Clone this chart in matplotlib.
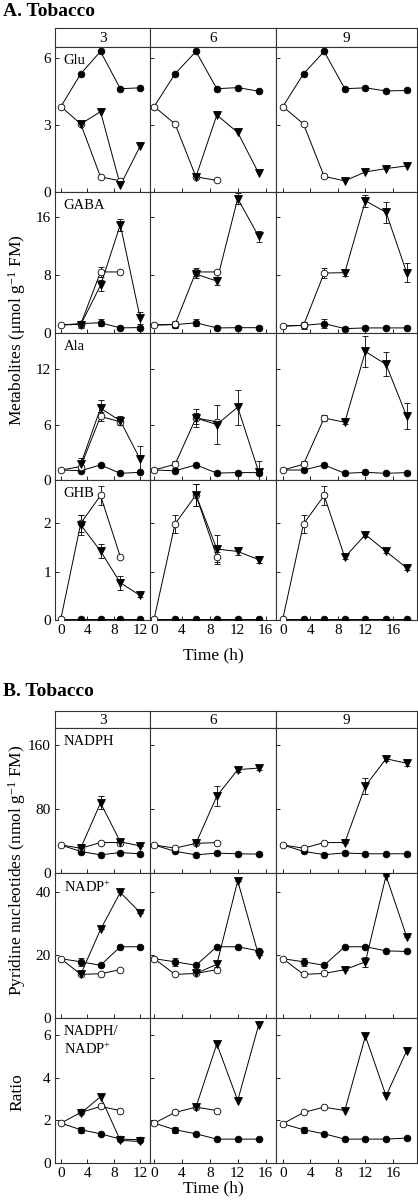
import matplotlib
matplotlib.use("Agg")
import matplotlib.pyplot as plt
import numpy as np

plt.rcParams['font.family'] = ['Liberation Serif', 'DejaVu Serif']
plt.rcParams['mathtext.fontset'] = 'custom'
plt.rcParams['mathtext.rm'] = 'Liberation Serif'
plt.rcParams['mathtext.it'] = 'Liberation Serif:italic'

# ---------------- data ----------------
columns = ["3", "6", "9"]
t_ctrl = [[3, 6, 9, 12], [3, 6, 9, 12, 15], [3, 6, 9, 12, 15, 18]]
t_open = [[0, 3, 6, 9], [0, 3, 6, 9], [0, 3, 6]]
t_tri = [[3, 6, 9, 12], [6, 9, 12, 15], [9, 12, 15, 18]]

# Panel A
glu_ctrl = [[5.3, 6.3, 4.63, 4.67], [5.3, 6.3, 4.63, 4.68, 4.52], [5.3, 6.3, 4.63, 4.67, 4.53, 4.55]]
glu_open = [[3.83, 3.05, 0.68, 0.5], [3.83, 3.05, 0.68, 0.52], [3.83, 3.05, 0.7]]
glu_tri = [[3.05, 3.6, 0.3, 2.05], [0.68, 3.45, 2.67, 0.85], [0.5, 0.9, 1.05, 1.17]]

gaba_ctrl = [[1.3, 1.4, 0.7, 0.75], [1.15, 1.4, 0.7, 0.73, 0.73], [1.05, 1.3, 0.6, 0.7, 0.7, 0.7]]
gaba_open = [[1.1, 1.2, 8.4, 8.4], [1.1, 1.2, 8.4, 8.4], [0.96, 1.05, 8.25]]
gaba_tri = [[1.15, 6.55, 14.9, 2.1], [8.1, 7.15, 18.5, 13.3], [8.3, 18.2, 16.6, 8.3]]
gaba_ctrl_err = [[0.4, 0.5, 0.2, 0.2], [0.3, 0.5, 0.2, 0.2, 0.2], [0.3, 0.6, 0.2, 0.2, 0.2, 0.2]]
gaba_open_err = [[0, 0.4, 0.7, 0], [0, 0.5, 0.6, 0], [0, 0.5, 0.7]]
gaba_tri_err = [[0.5, 0.8, 0.8, 0.8], [0.6, 0.6, 0.7, 0.8], [0.4, 0.8, 1.4, 1.3]]

ala_ctrl = [[1.0, 1.63, 0.72, 0.83], [1.0, 1.63, 0.75, 0.8, 0.8], [1.08, 1.63, 0.72, 0.83, 0.72, 0.8]]
ala_open = [[1.08, 1.45, 6.87, 6.3], [1.08, 1.7, 6.7, 6.3], [1.08, 1.7, 6.7]]
ala_tri = [[1.7, 7.77, 6.4, 2.24], [6.7, 6.0, 7.88, 0.9], [6.25, 13.9, 12.5, 6.9]]
ala_open_err = [[0, 0.5, 0.5, 0], [0, 0.4, 0.6, 0], [0, 0.4, 0.3]]
ala_tri_err = [[0.7, 0.9, 0.5, 1.4], [1.0, 2.1, 1.9, 1.2], [0.2, 1.7, 1.3, 1.4]]

ghb_ctrl = [[0.03, 0.03, 0.03, 0.03], [0.03, 0.03, 0.03, 0.03, 0.03], [0.03, 0.03, 0.03, 0.03, 0.03, 0.03]]
ghb_open = [[0.03, 2.0, 2.58, 1.31], [0.03, 1.99, 2.59, 1.31], [0.03, 1.99, 2.58]]
ghb_tri = [[1.97, 1.43, 0.77, 0.51], [2.59, 1.47, 1.42, 1.25], [1.30, 1.77, 1.42, 1.08]]
ghb_open_err = [[0, 0.18, 0.2, 0], [0, 0.18, 0.22, 0.1], [0, 0.18, 0.2]]
ghb_tri_err = [[0.2, 0.15, 0.15, 0.03], [0.22, 0.3, 0.07, 0.07], [0.04, 0.05, 0.04, 0.05]]

# Panel B
nadph_ctrl = [[26.8, 22.7, 25.5, 24.0], [27.0, 22.7, 24.8, 24.0, 23.6], [27.0, 23.0, 25.0, 24.0, 24.0, 24.0]]
nadph_open = [[35, 31, 38, 38], [35, 31, 37, 38], [35, 31, 38]]
nadph_tri = [[31, 87.5, 39, 33.8], [37, 96, 129, 131], [38, 108.7, 142.6, 137]]
nadph_tri_err = [[0, 8, 2, 0], [0, 12, 3, 2], [0, 10, 3, 3]]

nadp_ctrl = [[17.9, 16.8, 22.7, 22.7], [17.9, 16.8, 22.7, 22.7, 21.4], [17.9, 16.8, 22.7, 22.7, 21.4, 21.2]]
nadp_open = [[18.9, 13.9, 14.1, 15.4], [18.9, 13.9, 14.2, 15.4], [18.9, 13.9, 14.2]]
nadp_tri = [[13.9, 28.2, 40.0, 33.6], [14.2, 17.1, 43.7, 20.0], [15.4, 17.9, 45.3, 25.9]]
nadp_ctrl_err = [[1.2, 0, 0, 0], [1.2, 0, 0, 0, 0], [1.2, 0, 0, 0, 0, 0]]
nadp_tri_err = [[0, 0, 0, 0], [0, 1.0, 0, 0], [0, 1.5, 0, 0]]

ratio_ctrl = [[1.56, 1.37, 1.12, 1.09], [1.56, 1.37, 1.12, 1.12, 1.12], [1.56, 1.37, 1.12, 1.12, 1.12, 1.17]]
ratio_open = [[1.87, 2.37, 2.65, 2.46], [1.87, 2.37, 2.62, 2.46], [1.84, 2.37, 2.62]]
ratio_tri = [[2.33, 3.11, 1.06, 1.01], [2.62, 5.58, 2.93, 6.46], [2.46, 5.95, 3.15, 5.26]]
ratio_ctrl_err = [[0.15, 0, 0, 0], [0.15, 0, 0, 0, 0], [0.15, 0, 0, 0, 0, 0]]

xticks = [[0, 4, 8, 12], [0, 4, 8, 12, 16], [0, 4, 8, 12, 16]]
xlims = [(-0.9, 13.5), (-0.6, 17.5), (-1.0, 19.5)]

rows_A = [
    dict(label="Glu", ctrl=glu_ctrl, open=glu_open, tri=glu_tri, ylim=(0, 6.5), yticks=[0, 3, 6]),
    dict(label="GABA", ctrl=gaba_ctrl, open=gaba_open, tri=gaba_tri, ylim=(0, 19.4), yticks=[0, 8, 16],
         ctrl_err=gaba_ctrl_err, open_err=gaba_open_err, tri_err=gaba_tri_err),
    dict(label="Ala", ctrl=ala_ctrl, open=ala_open, tri=ala_tri, ylim=(0, 15.9), yticks=[0, 6, 12],
         open_err=ala_open_err, tri_err=ala_tri_err),
    dict(label="GHB", ctrl=ghb_ctrl, open=ghb_open, tri=ghb_tri, ylim=(0, 2.9), yticks=[0, 1, 2],
         open_err=ghb_open_err, tri_err=ghb_tri_err),
]
rows_B = [
    dict(label="NADPH", ctrl=nadph_ctrl, open=nadph_open, tri=nadph_tri, ylim=(0, 181), yticks=[0, 80, 160],
         tri_err=nadph_tri_err),
    dict(label="NADP$^{+}$", ctrl=nadp_ctrl, open=nadp_open, tri=nadp_tri, ylim=(0, 46.2), yticks=[0, 20, 40],
         ctrl_err=nadp_ctrl_err, tri_err=nadp_tri_err),
    dict(label="NADPH/\nNADP$^{+}$", ctrl=ratio_ctrl, open=ratio_open, tri=ratio_tri, ylim=(0, 6.8),
         yticks=[0, 2, 4, 6], ctrl_err=ratio_ctrl_err),
]

# ---------------- layout ----------------
W, H = 418, 1204
fig = plt.figure(figsize=(W / 100, H / 100), dpi=100)
col_edges = [55, 150, 276, 417]

def rect(x0, x1, ytop, ybot):
    return [x0 / W, 1 - ybot / H, (x1 - x0) / W, (ybot - ytop) / H]

LW = 0.7
MS = 4.8
FS = 11
FS_LAB = 12.5
FS_ROW = 10.5

def draw_row(ax, row, c):
    tc, to, tt = t_ctrl[c], t_open[c], t_tri[c]
    vc, vo, vt = row["ctrl"][c], row["open"][c], row["tri"][c]
    ax.plot([to[0]] + tc, [vo[0]] + vc, color="black", lw=LW, zorder=2)
    ax.plot(to, vo, color="black", lw=LW, zorder=2)
    prev = [i for i, t in enumerate(to) if t <= tt[0]][-1]
    ax.plot([to[prev]] + tt, [vo[prev]] + vt, color="black", lw=LW, zorder=2)
    kw = dict(fmt="none", ecolor="black", elinewidth=0.6, capsize=2, capthick=0.6)
    if "ctrl_err" in row:
        ax.errorbar(tc, vc, yerr=row["ctrl_err"][c], zorder=3, **kw)
    if "open_err" in row:
        ax.errorbar(to, vo, yerr=row["open_err"][c], zorder=3, **kw)
    if "tri_err" in row:
        ax.errorbar(tt, vt, yerr=row["tri_err"][c], zorder=3, **kw)
    ax.plot(tc, vc, "o", ms=MS, mfc="black", mec="black", mew=0.6, zorder=4)
    ax.plot(to, vo, "o", ms=MS, mfc="white", mec="black", mew=0.6, zorder=5)
    ax.plot(tt, vt, "v", ms=MS + 0.6, mfc="black", mec="black", mew=0.6, zorder=6)

def panel(title, title_y, header, row_bounds, rows, ylabels, time_y):
    fig.text(3 / W, 1 - title_y / H, title, fontsize=14, fontweight="bold", va="center", ha="left")
    for c in range(3):
        hx = fig.add_axes(rect(col_edges[c], col_edges[c + 1], header[0], header[1]))
        hx.set_xticks([]); hx.set_yticks([])
        for s in hx.spines.values():
            s.set_linewidth(0.8); s.set_color("#333333")
        hx.text(0.5, 0.45, columns[c], transform=hx.transAxes, ha="center", va="center", fontsize=FS)
    for r, row in enumerate(rows):
        for c in range(3):
            ax = fig.add_axes(rect(col_edges[c], col_edges[c + 1], row_bounds[r], row_bounds[r + 1]))
            draw_row(ax, row, c)
            ax.set_xlim(*xlims[c])
            ax.set_ylim(*row["ylim"])
            ax.set_xticks(xticks[c])
            ax.set_yticks(row["yticks"])
            ax.tick_params(direction="in", length=3, width=0.6, labelsize=FS, pad=3)
            if c > 0:
                ax.set_yticklabels([])
            if r < len(rows) - 1:
                ax.set_xticklabels([])
            for s in ax.spines.values():
                s.set_linewidth(0.8); s.set_color("#333333")
            if c == 0:
                ax.text(0.09, 0.95, row["label"], transform=ax.transAxes, ha="left", va="top",
                        fontsize=FS_ROW, linespacing=1.25)
    for (txt, yc) in ylabels:
        fig.text(17 / W, 1 - yc / H, txt, rotation=90, ha="center", va="center", fontsize=FS_LAB)
    fig.text(213 / W, 1 - time_y / H, "Time (h)", ha="center", va="center", fontsize=FS_LAB)

panel("A. Tobacco", 12, (28, 47), [47, 192, 333, 480, 620], rows_A,
      [("Metabolites (μmol g$^{-1}$ FM)", 330)], 655)
panel("B. Tobacco", 692, (711, 728), [728, 873, 1018, 1163], rows_B,
      [("Pyridine nucleotides (nmol g$^{-1}$ FM)", 870), ("Ratio", 1092)], 1188)

fig.savefig("out.png", dpi=100)
